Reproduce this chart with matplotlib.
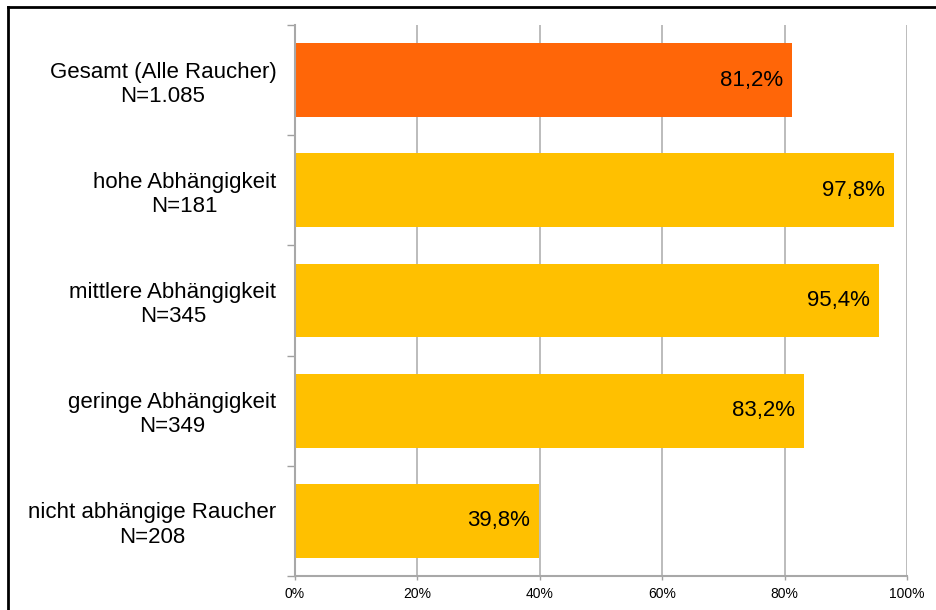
import matplotlib.pyplot as plt
from matplotlib.lines import Line2D
from matplotlib.ticker import FixedLocator, PercentFormatter

plt.rcParams['font.family'] = ['Liberation Sans', 'DejaVu Sans']

# Anteil der Raucher nach Abhängigkeitsgrad
categories = [
    "Gesamt (Alle Raucher)\nN=1.085",
    "hohe Abhängigkeit\nN=181",
    "mittlere Abhängigkeit\nN=345",
    "geringe Abhängigkeit\nN=349",
    "nicht abhängige Raucher\nN=208",
]
values = [81.2, 97.8, 95.4, 83.2, 39.8]
bar_colors = ["#FF6608", "#FFC000", "#FFC000", "#FFC000", "#FFC000"]
x_ticks = [0, 20, 40, 60, 80, 100]

W, H = 936, 610
fig = plt.figure(figsize=(W / 100, H / 100), dpi=100)
ax = fig.add_axes([295 / W, 1 - 576 / H, (907 - 295) / W, (576 - 25) / H])

pos = list(range(len(categories)))
ax.barh(pos, values, height=0.67, color=bar_colors, zorder=2)

for y, v in zip(pos, values):
    ax.annotate(f"{v:.1f}%".replace(".", ","), xy=(v, y), xytext=(-9, 0),
                textcoords="offset pixels", ha="right", va="center",
                fontsize=16, color="black", zorder=3)

ax.set_xlim(0, 100)
ax.set_ylim(len(categories) - 0.5, -0.5)

ax.xaxis.set_major_locator(FixedLocator(x_ticks))
ax.xaxis.set_major_formatter(PercentFormatter(decimals=0))
ax.tick_params(axis="x", length=3, width=1, color="#A0A0A0", labelsize=10, pad=5)
ax.grid(axis="x", color="#B0B0B0", linewidth=1.2, zorder=1)

ax.set_yticks(pos)
ax.set_yticklabels(categories, fontsize=16, linespacing=1.2)
for lbl in ax.get_yticklabels():
    lbl.set_multialignment("center")
ax.set_yticks([p - 0.5 for p in pos] + [len(pos) - 0.5], minor=True)
ax.tick_params(axis="y", which="major", length=0, pad=13.5)
ax.tick_params(axis="y", which="minor", length=6, width=1, color="#A0A0A0")

for side in ("top", "right"):
    ax.spines[side].set_visible(False)
for side in ("left", "bottom"):
    ax.spines[side].set_color("#A8A8A8")
    ax.spines[side].set_linewidth(1.5)

# Rahmen oben und links
fig.add_artist(Line2D([8 / W, 8 / W], [0, 1 - 7 / H], transform=fig.transFigure,
                      color="black", linewidth=2))
fig.add_artist(Line2D([8 / W, 1], [1 - 7 / H, 1 - 7 / H], transform=fig.transFigure,
                      color="black", linewidth=2))

fig.savefig("out.png", dpi=100)
